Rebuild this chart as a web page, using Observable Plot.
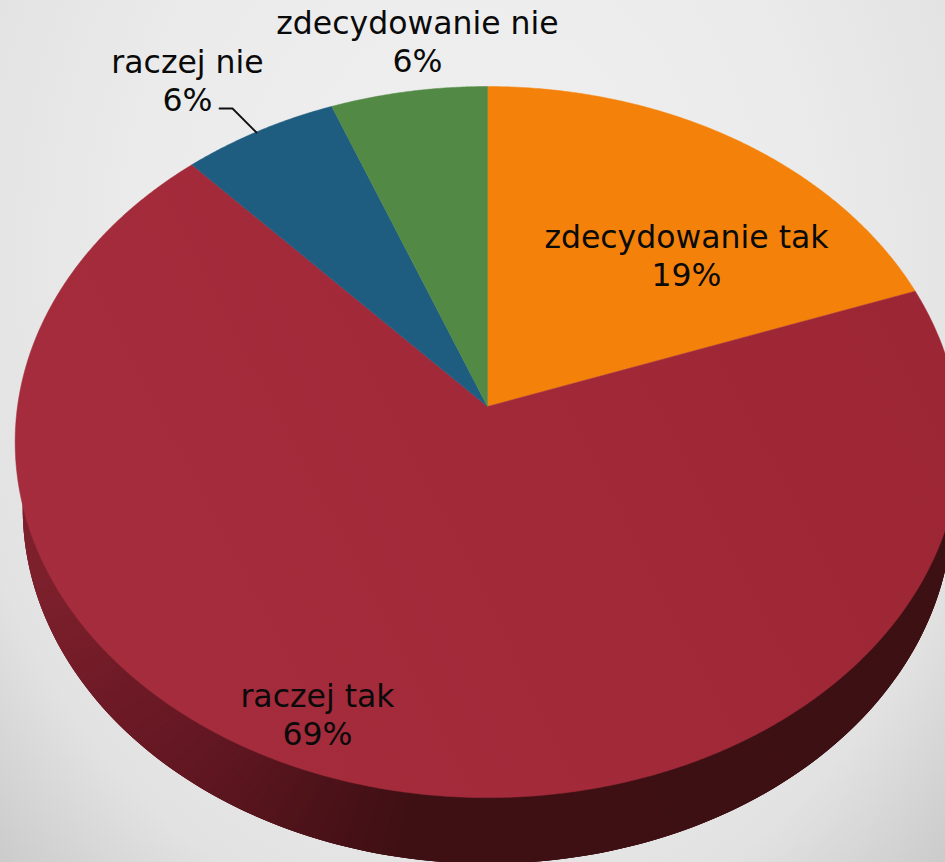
<!DOCTYPE html>
<html lang="pl">
<head>
<meta charset="utf-8">
<script src="https://cdn.jsdelivr.net/npm/d3@7"></script>
<script src="https://cdn.jsdelivr.net/npm/@observablehq/plot@0.6"></script>
<style>
html,body{margin:0;padding:0;overflow:hidden;background:#e6e6e6}
#chart{width:945px;height:862px;background:radial-gradient(ellipse farthest-corner at 50% 30%,#f0f0f0 0%,#ebebeb 50%,#e2e2e2 80%,#cbcbcb 100%)}
svg{display:block;background:transparent!important}
</style>
</head>
<body>
<div id="chart"></div>
<script>
// Data
const categories = ["zdecydowanie tak", "raczej tak", "raczej nie", "zdecydowanie nie"];
const shares = [19.5, 68.7, 5.9, 5.9];
const percentLabels = ["19%", "69%", "6%", "6%"];

// Styles and layout
const sliceFills = ["#f4820a", "url(#redFace)", "#1e5c80", "#528a45"];
const labelX = [686, 317, 187, 417];
const labelY = [254, 713, 79, 40];
const leaderX = [219, 232, 256];
const leaderY = [108, 108, 132];
const sideStopsX = [15, 100, 200, 300, 400, 945];
const sideStopsColor = ["#7f212d", "#6d1a26", "#5e1620", "#4c1219", "#3e1013", "#3d1013"];

const W = 945, H = 862;
const apex = {x: 487, y: 406};
const R = 470, S = 352, k = 0.1, depth = 66, bottomScale = 0.984;

// Perspective projection of a rim point; angle is clockwise from the top.
function rim(a, r = 1, scaleX = 1, dy = 0) {
  const X = r * Math.sin(a), Y = -r * Math.cos(a), w = 1 - k * Y;
  return {x: apex.x + R * scaleX * X / w, y: apex.y + dy + S * Y / w};
}

const arcs = d3.pie().sort(null).value(d => d)(shares);

function sliceOutline(arc) {
  const n = Math.ceil((arc.endAngle - arc.startAngle) / 0.006);
  const pts = [{x: apex.x, y: apex.y}];
  for (let i = 0; i <= n; i++) pts.push(rim(arc.startAngle + (arc.endAngle - arc.startAngle) * i / n));
  pts.push({x: apex.x, y: apex.y});
  return pts;
}

// Side wall: wedges of the lower rim, shaded by position; the top face hides all but the visible band.
const sideColor = d3.scaleLinear().domain(sideStopsX).range(sideStopsColor).clamp(true);
const wall = [];
const stepA = Math.PI / 240;
const wallCenter = {x: apex.x, y: apex.y + depth};
for (let i = 0; i < 240; i++) {
  // runs from the left edge round to the right edge, each wedge overlapping the next
  const a = 1.5 * Math.PI - i * stepA;
  const b0 = rim(a, 1, bottomScale, depth), b1 = rim(a - 3 * stepA, 1, bottomScale, depth);
  const color = sideColor(b0.x);
  for (const p of [wallCenter, b0, b1, wallCenter]) wall.push({...p, strip: i, color});
}

const labels = categories.map((c, i) => ({text: `${c}\n${percentLabels[i]}`, x: labelX[i], y: labelY[i]}));
const leader = leaderX.map((x, i) => ({x, y: leaderY[i]}));

const svg = Plot.plot({
  width: W, height: H,
  margin: 0,
  style: {background: "transparent"},
  x: {axis: null, domain: [0, W], range: [0, W]},
  y: {axis: null, domain: [0, H], range: [0, H]},
  color: {type: "identity"},
  marks: [
    Plot.line(wall, {x: "x", y: "y", z: "strip", fill: "color", stroke: "none", curve: "linear"}),
    ...arcs.map((arc, i) => Plot.line(sliceOutline(arc), {
      x: "x", y: "y", fill: sliceFills[i], stroke: sliceFills[i], strokeWidth: 0.5, curve: "linear"
    })),
    Plot.line(leader, {x: "x", y: "y", stroke: "#111", strokeWidth: 1.8, curve: "linear"}),
    Plot.text(labels, {
      x: "x", y: "y", text: "text", fill: "#0a0a0a",
      fontFamily: "DejaVu Sans", fontSize: 31.5, lineHeight: 1.206,
      textAnchor: "middle", lineAnchor: "middle"
    })
  ]
});

const grad = d3.select(svg).insert("defs", ":first-child")
  .append("linearGradient").attr("id", "redFace")
  .attr("gradientUnits", "userSpaceOnUse")
  .attr("x1", 60).attr("y1", 760).attr("x2", 900).attr("y2", 330);
grad.append("stop").attr("offset", "0").attr("stop-color", "#a62d3d");
grad.append("stop").attr("offset", "1").attr("stop-color", "#9d2635");

document.getElementById("chart").appendChild(svg);
</script>
</body>
</html>
